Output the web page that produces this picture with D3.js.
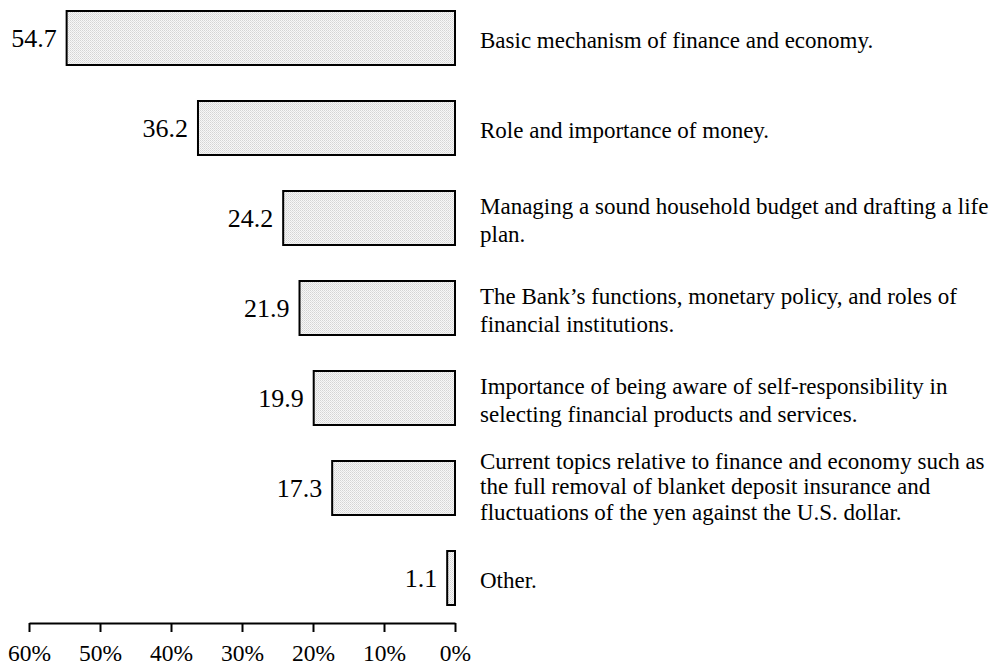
<!DOCTYPE html>
<html><head><meta charset="utf-8">
<script src="https://cdn.jsdelivr.net/npm/d3@7"></script>
<style>
body{margin:0;background:#fff;}
svg{display:block;font-family:"Liberation Serif","Times New Roman",serif;}
</style></head>
<body>
<svg id="chart" width="996" height="669"></svg>
<script>
const categories = [
  "Basic mechanism of finance and economy.",
  "Role and importance of money.",
  "Managing a sound household budget and drafting a life\nplan.",
  "The Bank\u2019s functions, monetary policy, and roles of\nfinancial institutions.",
  "Importance of being aware of self-responsibility in\nselecting financial products and services.",
  "Current topics relative to finance and economy such as\nthe full removal of blanket deposit insurance and\nfluctuations of the yen against the U.S. dollar.",
  "Other."
];
const values = [54.7, 36.2, 24.2, 21.9, 19.9, 17.3, 1.1];
const tickValues = [60, 50, 40, 30, 20, 10, 0];

const svg = d3.select("#chart");
const defs = svg.append("defs");
const pat = defs.append("pattern").attr("id","dots").attr("patternUnits","userSpaceOnUse")
  .attr("width",2).attr("height",2);
pat.append("rect").attr("width",2).attr("height",2).attr("fill","#f7f7f7");
pat.append("rect").attr("width",1).attr("height",1).attr("fill","#d4d4d4");
pat.append("rect").attr("x",1).attr("y",1).attr("width",1).attr("height",1).attr("fill","#e0e0e0");

const x = d3.scaleLinear().domain([60, 0]).range([29, 455]);
const y = d3.scaleBand().domain(categories).range([-7, 623]).paddingInner(0.4).paddingOuter(0.2);

const data = categories.map((c,i)=>({c, v: values[i]}));

svg.selectAll("rect.bar").data(data).join("rect")
  .attr("class","bar")
  .attr("x", d=>x(d.v)).attr("y", d=>y(d.c))
  .attr("width", d=>x(0)-x(d.v)).attr("height", y.bandwidth())
  .attr("fill","url(#dots)").attr("stroke","#000").attr("stroke-width",2);

svg.selectAll("text.val").data(data).join("text")
  .attr("class","val")
  .attr("x", d=>x(d.v)-10).attr("y", d=>y(d.c)+y.bandwidth()/2 + 9)
  .attr("text-anchor","end")
  .attr("font-size",26).attr("fill","#000")
  .text(d=>d.v.toFixed(1));

svg.selectAll("text.cat").data(data).join("text")
  .attr("class","cat")
  .attr("font-size",23).attr("fill","#000")
  .each(function(d){
    const lines = d.c.split("\n");
    const n = lines.length;
    const lh = n > 2 ? 25.5 : 28;
    const off = n > 2 ? 6 : 9.5;
    const cy = y(d.c)+y.bandwidth()/2;
    const t = d3.select(this);
    lines.forEach((l,j)=>{
      t.append("tspan").attr("x",480)
        .attr("y", cy + off + (j - (n-1)/2)*lh)
        .text(l);
    });
  });

const axis = d3.axisBottom(x).tickValues(tickValues).tickSize(9).tickSizeOuter(0)
  .tickPadding(12).tickFormat(d=>d+"%");
const g = svg.append("g").attr("transform","translate(0,623)").call(axis);
g.attr("font-family","Liberation Serif");
g.select(".domain").attr("stroke-width",2);
g.selectAll(".tick line").attr("stroke-width",2);
g.selectAll(".tick text").attr("font-size",23.5).attr("fill","#000");
</script>
</body></html>
